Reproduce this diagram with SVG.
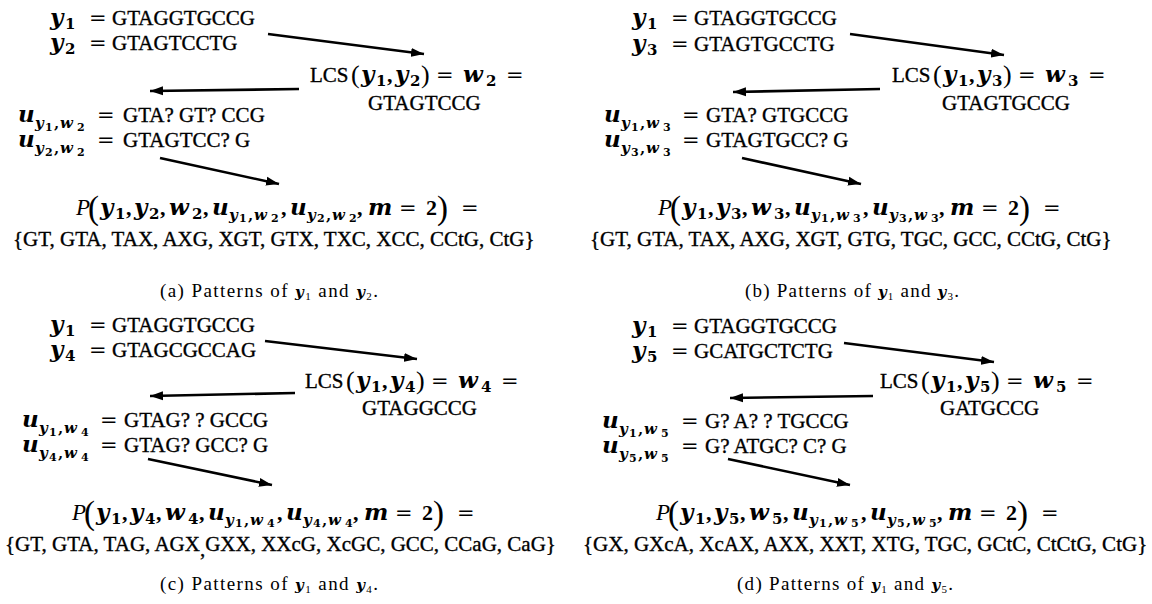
<svg xmlns="http://www.w3.org/2000/svg" width="1152" height="604" viewBox="0 0 1152 604">
<defs>
<marker id="ah" markerUnits="userSpaceOnUse" markerWidth="14" markerHeight="10" refX="13" refY="5" orient="auto"><path d="M0,0.5 L13,5 L0,9.5 z" fill="#000"/></marker>
<style>
text{font-family:'Liberation Serif','Times New Roman',serif;font-size:21px;fill:#000}
.st{stroke:#000;stroke-width:0.35px}
.v{font-family:'DejaVu Serif',serif;font-weight:bold;font-style:italic;font-size:23px}
.s{font-family:'DejaVu Serif',serif;font-weight:bold;font-size:15px}
.sv{font-family:'DejaVu Serif',serif;font-weight:bold;font-style:italic;font-size:15px}
.ss{font-family:'DejaVu Serif',serif;font-weight:bold;font-size:11px}
.eq{font-family:'DejaVu Serif',serif;font-size:21px}
.cm{font-family:'Liberation Serif',serif;font-weight:bold;font-size:22px}
.pr{font-size:26px}
.bp{font-size:33px}
.pi{font-style:italic;font-size:23px}
.cap{font-size:19px}
.cv{font-family:'DejaVu Serif',serif;font-weight:bold;font-style:italic;font-size:15px}
.cs{font-size:11px}
.arr{stroke:#000;stroke-width:2.6;fill:none;marker-end:url(#ah)}
</style>
</defs>
<rect width="1152" height="604" fill="#fff"/>

<!-- Panel (a) -->
<g id="panel-a">
 <g id="a-connectors">
  <line class="arr" x1="268" y1="34" x2="424" y2="54"/>
  <line class="arr" x1="299" y1="89" x2="150" y2="91"/>
  <line class="arr" x1="160" y1="158" x2="279" y2="184"/>
 </g>
 <g id="a-inputs">
  <text><tspan class="v" x="50" y="25">y</tspan><tspan class="s" x="65" y="29">1</tspan><tspan class="eq" x="89" y="25">=</tspan><tspan class="st" x="112" y="25">GTAGGTGCCG</tspan></text>
  <text><tspan class="v" x="50" y="50">y</tspan><tspan class="s" x="65" y="54">2</tspan><tspan class="eq" x="89" y="50">=</tspan><tspan class="st" x="112" y="50">GTAGTCCTG</tspan></text>
 </g>
 <g id="a-lcs">
  <text><tspan class="st" x="310" y="82">LCS</tspan><tspan class="pr" x="351" y="83">(</tspan><tspan class="v" x="361" y="82">y</tspan><tspan class="s" x="376" y="86">1</tspan><tspan class="cm" x="387" y="82">,</tspan><tspan class="v" x="395" y="82">y</tspan><tspan class="s" x="410" y="86">2</tspan><tspan class="pr" x="421" y="83">)</tspan><tspan class="eq" x="436" y="82">=</tspan><tspan class="v" x="463" y="82">w</tspan><tspan class="s" x="486" y="86">2</tspan><tspan class="eq" x="506" y="82">=</tspan></text>
  <text class="st" x="368" y="110">GTAGTCCG</text>
 </g>
 <g id="a-masks">
  <text><tspan class="v" x="18" y="122">u</tspan><tspan class="sv" x="35" y="128">y</tspan><tspan class="ss" x="45" y="131">1</tspan><tspan class="s" x="54" y="128">,</tspan><tspan class="sv" x="60" y="128">w</tspan><tspan class="ss" x="77" y="131">2</tspan><tspan class="eq" x="97" y="122">=</tspan><tspan class="st" x="123" y="122">GTA? GT? CCG</tspan></text>
  <text><tspan class="v" x="18" y="147">u</tspan><tspan class="sv" x="35" y="153">y</tspan><tspan class="ss" x="45" y="156">2</tspan><tspan class="s" x="54" y="153">,</tspan><tspan class="sv" x="60" y="153">w</tspan><tspan class="ss" x="77" y="156">2</tspan><tspan class="eq" x="97" y="147">=</tspan><tspan class="st" x="123" y="147">GTAGTCC? G</tspan></text>
 </g>
 <g id="a-patterns">
  <text><tspan class="pi" x="76" y="215">P</tspan><tspan class="bp" x="88" y="219">(</tspan><tspan class="v" x="100" y="215">y</tspan><tspan class="s" x="115" y="219">1</tspan><tspan class="cm" x="126" y="215">,</tspan><tspan class="v" x="134" y="215">y</tspan><tspan class="s" x="149" y="219">2</tspan><tspan class="cm" x="160" y="215">,</tspan><tspan class="v" x="169" y="215">w</tspan><tspan class="s" x="192" y="219">2</tspan><tspan class="cm" x="203" y="215">,</tspan><tspan class="v" x="212" y="215">u</tspan><tspan class="sv" x="229" y="220">y</tspan><tspan class="ss" x="239" y="222">1</tspan><tspan class="s" x="248" y="220">,</tspan><tspan class="sv" x="254" y="220">w</tspan><tspan class="ss" x="271" y="222">2</tspan><tspan class="cm" x="281" y="215">,</tspan><tspan class="v" x="290" y="215">u</tspan><tspan class="sv" x="307" y="220">y</tspan><tspan class="ss" x="317" y="222">2</tspan><tspan class="s" x="326" y="220">,</tspan><tspan class="sv" x="332" y="220">w</tspan><tspan class="ss" x="349" y="222">2</tspan><tspan class="cm" x="357" y="215">,</tspan><tspan class="v" x="368" y="215">m</tspan><tspan class="eq" x="399" y="215">=</tspan><tspan class="cm" x="426" y="215">2</tspan><tspan class="bp" x="437" y="219">)</tspan><tspan class="eq" x="461" y="215">=</tspan></text>
  <text class="st" x="13" y="246">{GT, GTA, TAX, AXG, XGT, GTX, TXC, XCC, CCtG, CtG}</text>
 </g>
 <text id="a-caption" class="cap" x="160" y="297" textLength="218" lengthAdjust="spacing">(a) Patterns of <tspan class="cv">y</tspan><tspan class="cs" dy="3">1</tspan><tspan dy="-3"> and </tspan><tspan class="cv">y</tspan><tspan class="cs" dy="3">2</tspan><tspan dy="-3">.</tspan></text>
</g>

<!-- Panel (b) -->
<g id="panel-b" transform="translate(582,0)">
 <g id="b-connectors">
  <line class="arr" x1="268" y1="34" x2="422" y2="55"/>
  <line class="arr" x1="298" y1="89" x2="151" y2="92"/>
  <line class="arr" x1="160" y1="158" x2="279" y2="184"/>
 </g>
 <g id="b-inputs">
  <text><tspan class="v" x="50" y="25">y</tspan><tspan class="s" x="65" y="29">1</tspan><tspan class="eq" x="89" y="25">=</tspan><tspan class="st" x="112" y="25">GTAGGTGCCG</tspan></text>
  <text><tspan class="v" x="50" y="51">y</tspan><tspan class="s" x="65" y="55">3</tspan><tspan class="eq" x="89" y="51">=</tspan><tspan class="st" x="112" y="51">GTAGTGCCTG</tspan></text>
 </g>
 <g id="b-lcs">
  <text><tspan class="st" x="310" y="82">LCS</tspan><tspan class="pr" x="351" y="83">(</tspan><tspan class="v" x="361" y="82">y</tspan><tspan class="s" x="376" y="86">1</tspan><tspan class="cm" x="387" y="82">,</tspan><tspan class="v" x="395" y="82">y</tspan><tspan class="s" x="410" y="86">3</tspan><tspan class="pr" x="421" y="83">)</tspan><tspan class="eq" x="436" y="82">=</tspan><tspan class="v" x="463" y="82">w</tspan><tspan class="s" x="486" y="86">3</tspan><tspan class="eq" x="506" y="82">=</tspan></text>
  <text class="st" x="360" y="110">GTAGTGCCG</text>
 </g>
 <g id="b-masks">
  <text><tspan class="v" x="22" y="122">u</tspan><tspan class="sv" x="39" y="128">y</tspan><tspan class="ss" x="49" y="131">1</tspan><tspan class="s" x="58" y="128">,</tspan><tspan class="sv" x="64" y="128">w</tspan><tspan class="ss" x="81" y="131">3</tspan><tspan class="eq" x="100" y="122">=</tspan><tspan class="st" x="124" y="122">GTA? GTGCCG</tspan></text>
  <text><tspan class="v" x="22" y="147">u</tspan><tspan class="sv" x="39" y="153">y</tspan><tspan class="ss" x="49" y="156">3</tspan><tspan class="s" x="58" y="153">,</tspan><tspan class="sv" x="64" y="153">w</tspan><tspan class="ss" x="81" y="156">3</tspan><tspan class="eq" x="100" y="147">=</tspan><tspan class="st" x="124" y="147">GTAGTGCC? G</tspan></text>
 </g>
 <g id="b-patterns">
  <text><tspan class="pi" x="76" y="215">P</tspan><tspan class="bp" x="88" y="219">(</tspan><tspan class="v" x="100" y="215">y</tspan><tspan class="s" x="115" y="219">1</tspan><tspan class="cm" x="126" y="215">,</tspan><tspan class="v" x="134" y="215">y</tspan><tspan class="s" x="149" y="219">3</tspan><tspan class="cm" x="160" y="215">,</tspan><tspan class="v" x="169" y="215">w</tspan><tspan class="s" x="192" y="219">3</tspan><tspan class="cm" x="203" y="215">,</tspan><tspan class="v" x="212" y="215">u</tspan><tspan class="sv" x="229" y="220">y</tspan><tspan class="ss" x="239" y="222">1</tspan><tspan class="s" x="248" y="220">,</tspan><tspan class="sv" x="254" y="220">w</tspan><tspan class="ss" x="271" y="222">3</tspan><tspan class="cm" x="281" y="215">,</tspan><tspan class="v" x="290" y="215">u</tspan><tspan class="sv" x="307" y="220">y</tspan><tspan class="ss" x="317" y="222">3</tspan><tspan class="s" x="326" y="220">,</tspan><tspan class="sv" x="332" y="220">w</tspan><tspan class="ss" x="349" y="222">3</tspan><tspan class="cm" x="357" y="215">,</tspan><tspan class="v" x="368" y="215">m</tspan><tspan class="eq" x="399" y="215">=</tspan><tspan class="cm" x="426" y="215">2</tspan><tspan class="bp" x="437" y="219">)</tspan><tspan class="eq" x="461" y="215">=</tspan></text>
  <text class="st" x="8" y="246">{GT, GTA, TAX, AXG, XGT, GTG, TGC, GCC, CCtG, CtG}</text>
 </g>
 <text id="b-caption" class="cap" x="163" y="297" textLength="214" lengthAdjust="spacing">(b) Patterns of <tspan class="cv">y</tspan><tspan class="cs" dy="3">1</tspan><tspan dy="-3"> and </tspan><tspan class="cv">y</tspan><tspan class="cs" dy="3">3</tspan><tspan dy="-3">.</tspan></text>
</g>

<!-- Panel (c) -->
<g id="panel-c" transform="translate(0,307)">
 <g id="c-connectors">
  <line class="arr" x1="265" y1="34" x2="417" y2="52"/>
  <line class="arr" x1="295" y1="86" x2="150" y2="89"/>
  <line class="arr" x1="148" y1="152" x2="272" y2="178"/>
 </g>
 <g id="c-inputs">
  <text><tspan class="v" x="50" y="25">y</tspan><tspan class="s" x="65" y="29">1</tspan><tspan class="eq" x="89" y="25">=</tspan><tspan class="st" x="112" y="25">GTAGGTGCCG</tspan></text>
  <text><tspan class="v" x="50" y="50">y</tspan><tspan class="s" x="65" y="54">4</tspan><tspan class="eq" x="89" y="50">=</tspan><tspan class="st" x="112" y="50">GTAGCGCCAG</tspan></text>
 </g>
 <g id="c-lcs">
  <text><tspan class="st" x="305" y="81">LCS</tspan><tspan class="pr" x="346" y="82">(</tspan><tspan class="v" x="356" y="81">y</tspan><tspan class="s" x="371" y="85">1</tspan><tspan class="cm" x="382" y="81">,</tspan><tspan class="v" x="390" y="81">y</tspan><tspan class="s" x="405" y="85">4</tspan><tspan class="pr" x="416" y="82">)</tspan><tspan class="eq" x="431" y="81">=</tspan><tspan class="v" x="458" y="81">w</tspan><tspan class="s" x="481" y="85">4</tspan><tspan class="eq" x="501" y="81">=</tspan></text>
  <text class="st" x="362" y="108">GTAGGCCG</text>
 </g>
 <g id="c-masks">
  <text><tspan class="v" x="22" y="120">u</tspan><tspan class="sv" x="39" y="126">y</tspan><tspan class="ss" x="49" y="129">1</tspan><tspan class="s" x="58" y="126">,</tspan><tspan class="sv" x="64" y="126">w</tspan><tspan class="ss" x="81" y="129">4</tspan><tspan class="eq" x="100" y="120">=</tspan><tspan class="st" x="124" y="120">GTAG? ? GCCG</tspan></text>
  <text><tspan class="v" x="22" y="145">u</tspan><tspan class="sv" x="39" y="151">y</tspan><tspan class="ss" x="49" y="154">4</tspan><tspan class="s" x="58" y="151">,</tspan><tspan class="sv" x="64" y="151">w</tspan><tspan class="ss" x="81" y="154">4</tspan><tspan class="eq" x="100" y="145">=</tspan><tspan class="st" x="124" y="145">GTAG? GCC? G</tspan></text>
 </g>
 <g id="c-patterns">
  <text><tspan class="pi" x="72" y="213">P</tspan><tspan class="bp" x="84" y="217">(</tspan><tspan class="v" x="96" y="213">y</tspan><tspan class="s" x="111" y="217">1</tspan><tspan class="cm" x="122" y="213">,</tspan><tspan class="v" x="130" y="213">y</tspan><tspan class="s" x="145" y="217">4</tspan><tspan class="cm" x="156" y="213">,</tspan><tspan class="v" x="165" y="213">w</tspan><tspan class="s" x="188" y="217">4</tspan><tspan class="cm" x="199" y="213">,</tspan><tspan class="v" x="208" y="213">u</tspan><tspan class="sv" x="225" y="218">y</tspan><tspan class="ss" x="235" y="220">1</tspan><tspan class="s" x="244" y="218">,</tspan><tspan class="sv" x="250" y="218">w</tspan><tspan class="ss" x="267" y="220">4</tspan><tspan class="cm" x="277" y="213">,</tspan><tspan class="v" x="286" y="213">u</tspan><tspan class="sv" x="303" y="218">y</tspan><tspan class="ss" x="313" y="220">4</tspan><tspan class="s" x="322" y="218">,</tspan><tspan class="sv" x="328" y="218">w</tspan><tspan class="ss" x="345" y="220">4</tspan><tspan class="cm" x="353" y="213">,</tspan><tspan class="v" x="364" y="213">m</tspan><tspan class="eq" x="395" y="213">=</tspan><tspan class="cm" x="422" y="213">2</tspan><tspan class="bp" x="433" y="217">)</tspan><tspan class="eq" x="457" y="213">=</tspan></text>
  <text class="st" x="5" y="244">{GT, GTA, TAG, AGX<tspan dy="5">,</tspan><tspan dy="-5">GXX, XXcG, XcGC, GCC, CCaG, CaG}</tspan></text>
 </g>
 <text id="c-caption" class="cap" x="160" y="283" textLength="218" lengthAdjust="spacing">(c) Patterns of <tspan class="cv">y</tspan><tspan class="cs" dy="3">1</tspan><tspan dy="-3"> and </tspan><tspan class="cv">y</tspan><tspan class="cs" dy="3">4</tspan><tspan dy="-3">.</tspan></text>
</g>

<!-- Panel (d) -->
<g id="panel-d" transform="translate(582,307)">
 <g id="d-connectors">
  <line class="arr" x1="262" y1="36" x2="412" y2="55"/>
  <line class="arr" x1="291" y1="89" x2="148" y2="91"/>
  <line class="arr" x1="146" y1="152" x2="268" y2="178"/>
 </g>
 <g id="d-inputs">
  <text><tspan class="v" x="50" y="26">y</tspan><tspan class="s" x="65" y="30">1</tspan><tspan class="eq" x="89" y="26">=</tspan><tspan class="st" x="112" y="26">GTAGGTGCCG</tspan></text>
  <text><tspan class="v" x="50" y="51">y</tspan><tspan class="s" x="65" y="55">5</tspan><tspan class="eq" x="89" y="51">=</tspan><tspan class="st" x="112" y="51">GCATGCTCTG</tspan></text>
 </g>
 <g id="d-lcs">
  <text><tspan class="st" x="298" y="81">LCS</tspan><tspan class="pr" x="339" y="82">(</tspan><tspan class="v" x="349" y="81">y</tspan><tspan class="s" x="364" y="85">1</tspan><tspan class="cm" x="375" y="81">,</tspan><tspan class="v" x="383" y="81">y</tspan><tspan class="s" x="398" y="85">5</tspan><tspan class="pr" x="409" y="82">)</tspan><tspan class="eq" x="424" y="81">=</tspan><tspan class="v" x="451" y="81">w</tspan><tspan class="s" x="474" y="85">5</tspan><tspan class="eq" x="494" y="81">=</tspan></text>
  <text class="st" x="358" y="108">GATGCCG</text>
 </g>
 <g id="d-masks">
  <text><tspan class="v" x="20" y="121">u</tspan><tspan class="sv" x="37" y="127">y</tspan><tspan class="ss" x="47" y="130">1</tspan><tspan class="s" x="56" y="127">,</tspan><tspan class="sv" x="62" y="127">w</tspan><tspan class="ss" x="79" y="130">5</tspan><tspan class="eq" x="99" y="121">=</tspan><tspan class="st" x="123" y="121">G? A? ? TGCCG</tspan></text>
  <text><tspan class="v" x="20" y="146">u</tspan><tspan class="sv" x="37" y="152">y</tspan><tspan class="ss" x="47" y="155">5</tspan><tspan class="s" x="56" y="152">,</tspan><tspan class="sv" x="62" y="152">w</tspan><tspan class="ss" x="79" y="155">5</tspan><tspan class="eq" x="99" y="146">=</tspan><tspan class="st" x="123" y="146">G? ATGC? C? G</tspan></text>
 </g>
 <g id="d-patterns">
  <text><tspan class="pi" x="74" y="213">P</tspan><tspan class="bp" x="86" y="217">(</tspan><tspan class="v" x="98" y="213">y</tspan><tspan class="s" x="113" y="217">1</tspan><tspan class="cm" x="124" y="213">,</tspan><tspan class="v" x="132" y="213">y</tspan><tspan class="s" x="147" y="217">5</tspan><tspan class="cm" x="158" y="213">,</tspan><tspan class="v" x="167" y="213">w</tspan><tspan class="s" x="190" y="217">5</tspan><tspan class="cm" x="201" y="213">,</tspan><tspan class="v" x="210" y="213">u</tspan><tspan class="sv" x="227" y="218">y</tspan><tspan class="ss" x="237" y="220">1</tspan><tspan class="s" x="246" y="218">,</tspan><tspan class="sv" x="252" y="218">w</tspan><tspan class="ss" x="269" y="220">5</tspan><tspan class="cm" x="279" y="213">,</tspan><tspan class="v" x="288" y="213">u</tspan><tspan class="sv" x="305" y="218">y</tspan><tspan class="ss" x="315" y="220">5</tspan><tspan class="s" x="324" y="218">,</tspan><tspan class="sv" x="330" y="218">w</tspan><tspan class="ss" x="347" y="220">5</tspan><tspan class="cm" x="355" y="213">,</tspan><tspan class="v" x="366" y="213">m</tspan><tspan class="eq" x="397" y="213">=</tspan><tspan class="cm" x="424" y="213">2</tspan><tspan class="bp" x="435" y="217">)</tspan><tspan class="eq" x="459" y="213">=</tspan></text>
  <text class="st" x="1" y="244">{GX, GXcA, XcAX, AXX, XXT, XTG, TGC, GCtC, CtCtG, CtG}</text>
 </g>
 <text id="d-caption" class="cap" x="155" y="283" textLength="216" lengthAdjust="spacing">(d) Patterns of <tspan class="cv">y</tspan><tspan class="cs" dy="3">1</tspan><tspan dy="-3"> and </tspan><tspan class="cv">y</tspan><tspan class="cs" dy="3">5</tspan><tspan dy="-3">.</tspan></text>
</g>
</svg>
